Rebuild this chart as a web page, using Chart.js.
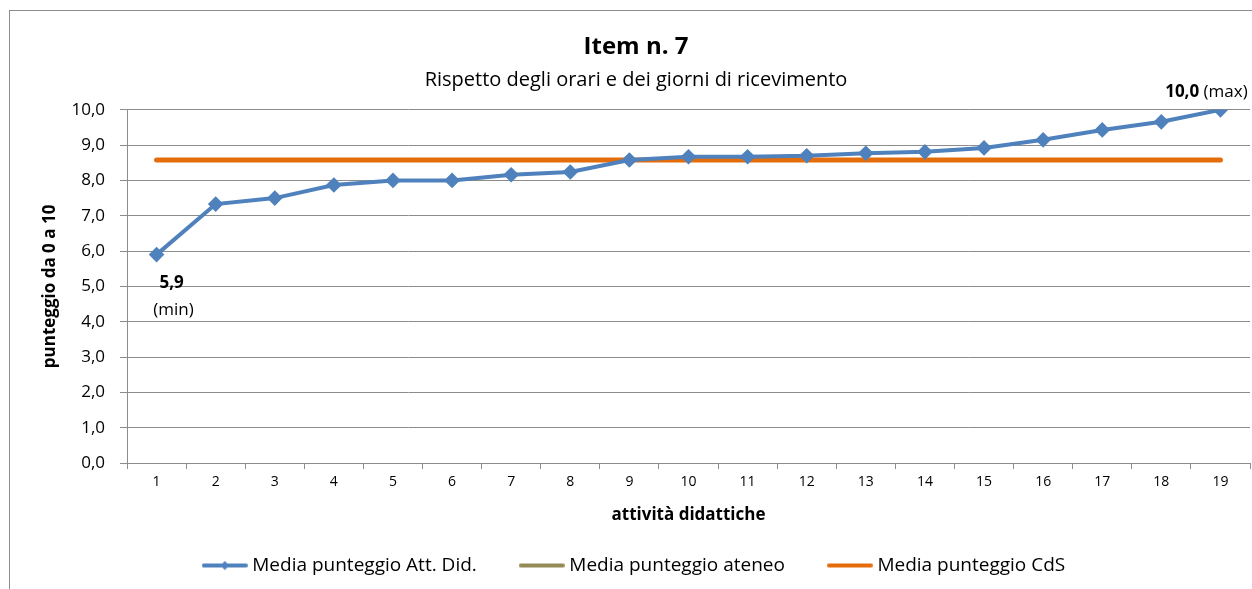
<!DOCTYPE html>
<html>
<head>
<meta charset="utf-8">
<script src="https://cdn.jsdelivr.net/npm/chart.js@4.4.1/dist/chart.umd.min.js"></script>
<style>
html, body { margin: 0; padding: 0; background: #fff; }
#wrap { position: relative; width: 1252px; height: 589px; overflow: hidden; }
#frame { position: absolute; left: 9px; top: 10px; width: 1270px; height: 620px; border: 1px solid #8c8c8c; box-sizing: border-box; }
#itemChart { position: absolute; left: 0; top: 0; }
</style>
</head>
<body>
<div id="wrap">
  <div id="frame"></div>
  <canvas id="itemChart" width="1252" height="589"></canvas>
</div>
<script>
// attività didattiche (asse x)
const attivita = ['1', '2', '3', '4', '5', '6', '7', '8', '9', '10', '11', '12', '13', '14', '15', '16', '17', '18', '19'];

// media punteggio per attività didattica
const mediaAttDid = [5.9, 7.33, 7.5, 7.87, 8.0, 8.0, 8.16, 8.24, 8.58, 8.67, 8.67, 8.7, 8.77, 8.81, 8.92, 9.15, 9.43, 9.66, 10.0];

// media ateneo: non visibile nel grafico
const mediaAteneo = [null, null, null, null, null, null, null, null, null, null, null, null, null, null, null, null, null, null, null];

// media corso di studio
const mediaCdS = [8.58, 8.58, 8.58, 8.58, 8.58, 8.58, 8.58, 8.58, 8.58, 8.58, 8.58, 8.58, 8.58, 8.58, 8.58, 8.58, 8.58, 8.58, 8.58];

const font = "'Open Sans', sans-serif";
const fmt = v => v.toFixed(1).replace('.', ',');

// icone della legenda: linea + eventuale rombo
function makeIcon(color, diamond) {
    const c = document.createElement('canvas');
    c.width = 46;
    c.height = 12;
    const g = c.getContext('2d');
    g.strokeStyle = color;
    g.lineWidth = 4;
    g.lineCap = 'round';
    g.beginPath();
    g.moveTo(2, 6);
    g.lineTo(44, 6);
    g.stroke();
    if (diamond) {
        g.fillStyle = color;
        g.beginPath();
        g.moveTo(23, 1.5);
        g.lineTo(27.5, 6);
        g.lineTo(23, 10.5);
        g.lineTo(18.5, 6);
        g.closePath();
        g.fill();
    }
    return c;
}
const icone = [makeIcon('#4f81bd', true), makeIcon('#948a54', false), makeIcon('#e46c0a', false)];

// etichette min / max sulla serie principale
const etichettePlugin = {
    id: 'etichette',
    afterDatasetsDraw(chart) {
        const meta = chart.getDatasetMeta(0);
        const ctx = chart.ctx;
        const min = Math.min(...mediaAttDid);
        const max = Math.max(...mediaAttDid);
        const pMin = meta.data[mediaAttDid.indexOf(min)];
        const pMax = meta.data[mediaAttDid.indexOf(max)];
        ctx.save();
        ctx.fillStyle = '#000';
        ctx.textBaseline = 'middle';
        ctx.textAlign = 'center';
        ctx.font = 'bold 17px ' + font;
        ctx.fillText(fmt(min), pMin.x + 15, pMin.y + 29);
        ctx.font = '17px ' + font;
        ctx.fillText('(min)', pMin.x + 17, pMin.y + 56);

        ctx.textAlign = 'left';
        ctx.font = 'bold 17px ' + font;
        const t1 = fmt(max);
        const w1 = ctx.measureText(t1).width;
        ctx.font = '17px ' + font;
        const t2 = ' (max)';
        const w2 = ctx.measureText(t2).width;
        const x0 = pMax.x - 14 - (w1 + w2) / 2;
        ctx.font = 'bold 17px ' + font;
        ctx.fillText(t1, x0, pMax.y - 18);
        ctx.font = '17px ' + font;
        ctx.fillText(t2, x0 + w1, pMax.y - 18);
        ctx.restore();
    }
};

const ctx = document.getElementById('itemChart').getContext('2d');
new Chart(ctx, {
    type: 'line',
    data: {
        labels: attivita,
        datasets: [
            {
                label: 'Media punteggio Att. Did.',
                data: mediaAttDid,
                borderColor: '#4f81bd',
                backgroundColor: '#4f81bd',
                borderWidth: 4,
                pointStyle: 'rectRot',
                pointRadius: 5,
                pointHoverRadius: 5,
                fill: false,
                tension: 0
            },
            {
                label: 'Media punteggio ateneo',
                data: mediaAteneo,
                borderColor: '#948a54',
                backgroundColor: '#948a54',
                borderWidth: 5,
                pointRadius: 0,
                fill: false
            },
            {
                label: 'Media punteggio CdS',
                data: mediaCdS,
                borderColor: '#e46c0a',
                backgroundColor: '#e46c0a',
                borderWidth: 5,
                borderCapStyle: 'round',
                pointRadius: 0,
                fill: false
            }
        ]
    },
    options: {
        responsive: false,
        animation: false,
        devicePixelRatio: 1,
        layout: { autoPadding: false, padding: { left: 22, right: 2, top: 0, bottom: 4 } },
        plugins: {
            title: {
                display: true,
                text: 'Item n. 7',
                color: '#000',
                font: { family: font, size: 24, weight: 'bold' },
                padding: { top: 33, bottom: 0 }
            },
            subtitle: {
                display: true,
                text: 'Rispetto degli orari e dei giorni di ricevimento',
                color: '#000',
                font: { family: font, size: 20 },
                padding: { top: 6, bottom: 18 }
            },
            legend: {
                position: 'bottom',
                labels: {
                    usePointStyle: true,
                    pointStyleWidth: 36,
                    color: '#000',
                    font: { family: font, size: 19 },
                    padding: 47,
                    generateLabels(chart) {
                        const items = Chart.defaults.plugins.legend.labels.generateLabels(chart);
                        items.forEach((it, i) => { it.pointStyle = icone[i]; });
                        return items;
                    }
                }
            },
            tooltip: { enabled: false }
        },
        scales: {
            x: {
                offset: true,
                grid: {
                    offset: true,
                    drawOnChartArea: false,
                    drawTicks: true,
                    tickLength: 6,
                    color: '#8c8c8c'
                },
                border: { color: '#8c8c8c' },
                ticks: { color: '#000', font: { family: font, size: 14 }, padding: 5, maxRotation: 0 },
                title: {
                    display: true,
                    text: 'attività didattiche',
                    color: '#000',
                    font: { family: font, size: 17, weight: 'bold' },
                    padding: { top: 0, bottom: -16 }
                },
                afterFit(scale) { scale.height = 46; }
            },
            y: {
                min: 0,
                max: 10,
                grid: { color: '#8c8c8c', tickLength: 7 },
                border: { color: '#8c8c8c' },
                ticks: {
                    stepSize: 1,
                    color: '#000',
                    font: { family: font, size: 17 },
                    padding: 15,
                    callback: v => fmt(v)
                },
                title: {
                    display: true,
                    text: 'punteggio da 0 a 10',
                    color: '#000',
                    font: { family: font, size: 17, weight: 'bold' },
                    padding: { top: 18, bottom: 0 }
                },
                afterFit(scale) { scale.width = 105; }
            }
        }
    },
    plugins: [etichettePlugin]
});
</script>
</body>
</html>
